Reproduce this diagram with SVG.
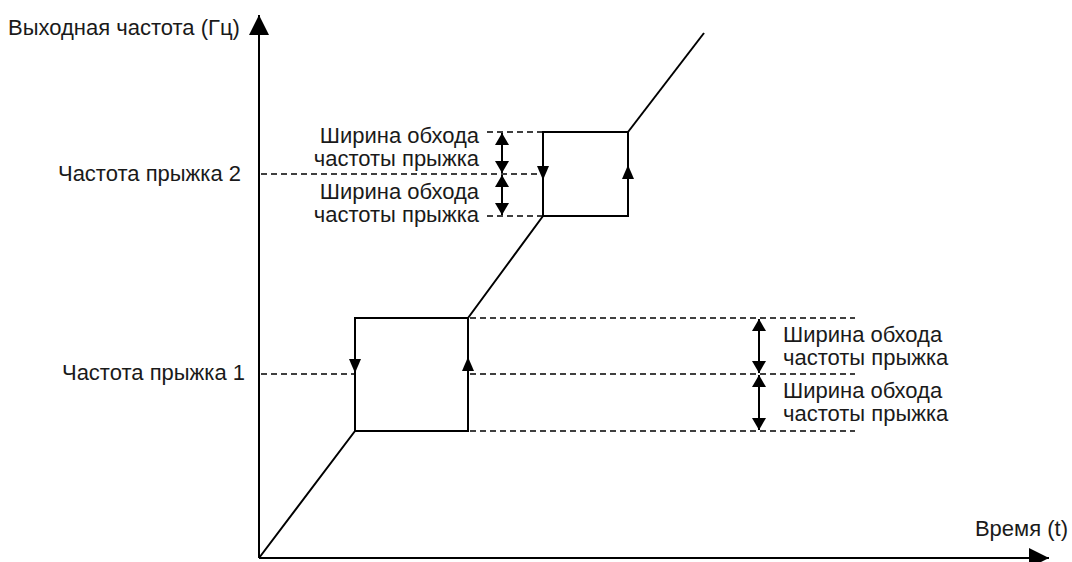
<svg xmlns="http://www.w3.org/2000/svg" width="1072" height="562" viewBox="0 0 1072 562">
<defs>
<marker id="ah" viewBox="0 0 12 14" refX="12" refY="7" markerWidth="12" markerHeight="14" markerUnits="userSpaceOnUse" orient="auto-start-reverse"><path d="M0,0 L12,7 L0,14 Z" fill="#000"/></marker>
<marker id="big" viewBox="0 0 20 20" refX="20" refY="10" markerWidth="20" markerHeight="20" markerUnits="userSpaceOnUse" orient="auto"><path d="M0,0 L20,10 L0,20 Z" fill="#000"/></marker>
</defs>
<style>
.s{stroke:#000;stroke-width:2;fill:none}
.d{stroke:#000;stroke-width:1.3;fill:none;stroke-dasharray:6 4}
.t{font-family:"Liberation Sans",Arial,sans-serif;font-size:22px;fill:#1a1a1a}
.tri{fill:#000}
</style>
<rect width="1072" height="562" fill="#fff"/>
<g id="axes">
<line class="s" x1="259" y1="558" x2="259" y2="15" marker-end="url(#big)"/>
<line class="s" x1="259" y1="558" x2="1049" y2="558" marker-end="url(#big)"/>
</g>
<g id="curve">
<polyline class="s" points="259,558 355,431 355,318 468,318 468,431 355,431"/>
<polyline class="s" points="468,318 543,216 543,132 628,132 628,216 543,216"/>
<line class="s" x1="628" y1="132" x2="704" y2="33"/>
<path class="tri" d="M349,359 L361,359 L355,373 Z"/>
<path class="tri" d="M462,371 L474,371 L468,357 Z"/>
<path class="tri" d="M537,166 L549,166 L543,180 Z"/>
<path class="tri" d="M622,179 L634,179 L628,165 Z"/>
</g>
<g id="connectors">
<line class="d" x1="261" y1="174" x2="542" y2="174"/>
<line class="d" x1="487" y1="132" x2="542" y2="132"/>
<line class="d" x1="487" y1="216" x2="542" y2="216"/>
<line class="d" x1="261" y1="374" x2="354" y2="374"/>
<line class="d" x1="470" y1="318" x2="855" y2="318"/>
<line class="d" x1="470" y1="374" x2="855" y2="374"/>
<line class="d" x1="470" y1="431" x2="855" y2="431"/>
<line class="s" x1="502" y1="133" x2="502" y2="173" marker-start="url(#ah)" marker-end="url(#ah)"/>
<line class="s" x1="502" y1="175" x2="502" y2="215" marker-start="url(#ah)" marker-end="url(#ah)"/>
<line class="s" x1="759" y1="319" x2="759" y2="373" marker-start="url(#ah)" marker-end="url(#ah)"/>
<line class="s" x1="759" y1="375" x2="759" y2="430" marker-start="url(#ah)" marker-end="url(#ah)"/>
</g>
<g id="labels">
<text class="t" x="8" y="35">Выходная частота (Гц)</text>
<text class="t" x="1068" y="536" text-anchor="end">Время (t)</text>
<text class="t" x="241" y="181" text-anchor="end">Частота прыжка 2</text>
<text class="t" x="245" y="380" text-anchor="end">Частота прыжка 1</text>
<text class="t" x="479" y="143" text-anchor="end">Ширина обхода</text>
<text class="t" x="479" y="166" text-anchor="end">частоты прыжка</text>
<text class="t" x="479" y="199" text-anchor="end">Ширина обхода</text>
<text class="t" x="479" y="222" text-anchor="end">частоты прыжка</text>
<text class="t" x="783" y="342">Ширина обхода</text>
<text class="t" x="783" y="365">частоты прыжка</text>
<text class="t" x="783" y="398">Ширина обхода</text>
<text class="t" x="783" y="421">частоты прыжка</text>
</g>
</svg>
